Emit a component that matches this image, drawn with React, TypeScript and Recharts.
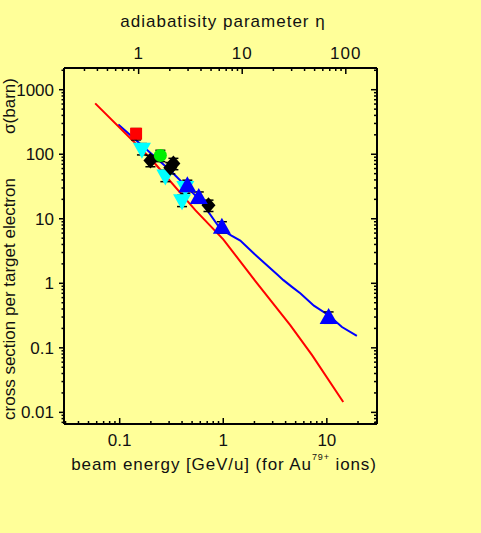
import React from 'react';
import { ComposedChart, Line, Scatter, XAxis, YAxis, ErrorBar } from 'recharts';

// beam energy (GeV/u) -> sigma (barn) readings
const redE = [0.058, 0.198, 0.537, 1.0, 2.05, 4.43, 7.2, 14.4];
const redS = [614, 86.5, 13.6, 4.8, 1.07, 0.225, 0.077, 0.0145];

const blueE = [0.097, 0.308, 0.6, 0.935, 1.2, 1.46, 2.0, 2.64, 3.3, 3.81, 4.6, 5.54, 7.5, 10.4, 14.0, 19.5];
const blueS = [290, 56, 19.3, 7.0, 5.5, 4.6, 2.84, 1.9, 1.38, 1.12, 0.88, 0.7, 0.45, 0.32, 0.21, 0.153];

const squareE = [0.144];
const squareS = [208];
const cyanE = [0.164, 0.276, 0.43, 0.4];
const cyanS = [122, 47, 31, 19.3];
const blackE = [0.198, 0.308, 0.33, 0.72];
const blackS = [80, 62, 72, 16.2];
const greenE = [0.247];
const greenS = [96];
const triE = [0.45, 0.58, 0.97, 10.4];
const triS = [33, 21.7, 7.5, 0.3];

const xMajor = [0.1, 1, 10];
const xMinor = [0.03, 0.04, 0.05, 0.06, 0.07, 0.08, 0.09, 0.2, 0.3, 0.4, 0.5, 0.6, 0.7, 0.8, 0.9, 2, 3, 4, 5, 6, 7, 8, 9, 20, 30];
const etaMajor = [1, 10, 100];
const etaMinor = [0.3, 0.4, 0.5, 0.6, 0.7, 0.8, 0.9, 2, 3, 4, 5, 6, 7, 8, 9, 20, 30, 40, 50, 60, 70, 80, 90, 200];
const yMajor = [0.01, 0.1, 1, 10, 100, 1000];
const yMinor = [0.007, 0.008, 0.009, 0.02, 0.03, 0.04, 0.05, 0.06, 0.07, 0.08, 0.09, 0.2, 0.3, 0.4, 0.5, 0.6, 0.7, 0.8, 0.9,
  2, 3, 4, 5, 6, 7, 8, 9, 20, 30, 40, 50, 60, 70, 80, 90, 200, 300, 400, 500, 600, 700, 800, 900, 2000];

// energy at which eta = 1
const E_AT_ETA1 = 0.1524;
const xDomain = [0.029, 30.5];
const yDomain = [0.0066, 2170];

const pts = (es: number[], ss: number[]) => es.map((e, i) => ({ e, s: ss[i], err: ss[i] * 0.2 }));
const redLine = pts(redE, redS);
const blueLine = pts(blueE, blueS);

const FONT = '"Liberation Sans", Arial, sans-serif';
const isMajor = (v: number, list: number[]) => list.some((m) => Math.abs(m - v) < 1e-6 * m);
const sortTicks = (a: number[], b: number[]) => [...a, ...b].sort((p, q) => p - q);
const etaTicks = sortTicks(etaMajor, etaMinor).map((t) => t * E_AT_ETA1);

const LeftTick = (p: any) => {
  const major = isMajor(p.payload.value, yMajor);
  return (
    <g>
      <line x1={p.x - (major ? 5 : 2.5)} x2={p.x} y1={p.y} y2={p.y} stroke="#000" strokeWidth={1.5} />
      {major && (
        <text x={p.x - 10} y={p.y} dy="0.36em" textAnchor="end" fontSize={17} fontFamily={FONT} fill="#111">
          {String(p.payload.value)}
        </text>
      )}
    </g>
  );
};

const RightTick = (p: any) => {
  const major = isMajor(p.payload.value, yMajor);
  return <line x1={p.x - (major ? 6 : 3)} x2={p.x} y1={p.y} y2={p.y} stroke="#000" strokeWidth={1.5} />;
};

const BottomTick = (p: any) => {
  const major = isMajor(p.payload.value, xMajor);
  return (
    <g>
      <line x1={p.x} x2={p.x} y1={p.y} y2={p.y - (major ? 6 : 3)} stroke="#000" strokeWidth={1.5} />
      {major && (
        <text x={p.x} y={p.y + 22} textAnchor="middle" fontSize={17} fontFamily={FONT} fill="#111">
          {String(p.payload.value)}
        </text>
      )}
    </g>
  );
};

const TopTick = (p: any) => {
  const eta = p.payload.value / E_AT_ETA1;
  const major = isMajor(eta, etaMajor);
  return (
    <g>
      <line x1={p.x} x2={p.x} y1={p.y} y2={p.y + (major ? 6 : 3)} stroke="#000" strokeWidth={1.5} />
      {major && (
        <text x={p.x} y={p.y - 9} textAnchor="middle" fontSize={17} fontFamily={FONT} fill="#111" letterSpacing={1}>
          {String(Math.round(eta))}
        </text>
      )}
    </g>
  );
};

const SquareShape = (p: any) => <rect x={p.cx - 6} y={p.cy - 6} width={12} height={12} fill="#ff0000" />;
const DownTri = (p: any) => (
  <polygon points={`${p.cx - 9},${p.cy - 6} ${p.cx + 9},${p.cy - 6} ${p.cx},${p.cy + 10}`} fill="#00ffff" />
);
const UpTri = (p: any) => (
  <polygon points={`${p.cx - 9},${p.cy + 7} ${p.cx + 9},${p.cy + 7} ${p.cx},${p.cy - 9}`} fill="#0000ff" />
);
const DiamondShape = (p: any) => (
  <polygon points={`${p.cx},${p.cy - 8} ${p.cx + 7},${p.cy} ${p.cx},${p.cy + 8} ${p.cx - 7},${p.cy}`} fill="#000" />
);
const CircleShape = (p: any) => <circle cx={p.cx} cy={p.cy} r={6.5} fill="#00ee00" />;
const NoShape = () => <g />;

const markerSets = [
  { name: 'square', data: pts(squareE, squareS), shape: SquareShape },
  { name: 'cyan', data: pts(cyanE, cyanS), shape: DownTri },
  { name: 'black', data: pts(blackE, blackS), shape: DiamondShape },
  { name: 'green', data: pts(greenE, greenS), shape: CircleShape },
  { name: 'blue', data: pts(triE, triS), shape: UpTri },
];

const textBase: React.CSSProperties = {
  position: 'absolute',
  fontFamily: FONT,
  fontSize: 17,
  lineHeight: '17px',
  color: '#111',
  whiteSpace: 'nowrap',
};

const axisLine = { stroke: '#000', strokeWidth: 2 };

export default function App() {
  return (
    <div style={{ position: 'absolute', left: 0, top: 0, width: 481, height: 533, background: '#ffff99' }}>
      <ComposedChart width={481} height={533} margin={{ top: 0, right: 0, bottom: 0, left: 0 }}>
        <XAxis
          xAxisId="bottom"
          dataKey="e"
          type="number"
          scale="log"
          domain={xDomain}
          allowDataOverflow
          ticks={sortTicks(xMajor, xMinor)}
          interval={0}
          height={109}
          tickSize={0}
          tickMargin={0}
          tick={<BottomTick />}
          axisLine={axisLine}
        />
        <XAxis
          xAxisId="top"
          orientation="top"
          dataKey="e"
          type="number"
          scale="log"
          domain={xDomain}
          allowDataOverflow
          ticks={etaTicks}
          interval={0}
          height={68}
          tickSize={0}
          tickMargin={0}
          tick={<TopTick />}
          axisLine={axisLine}
        />
        <YAxis
          yAxisId="left"
          dataKey="s"
          type="number"
          scale="log"
          domain={yDomain}
          allowDataOverflow
          ticks={sortTicks(yMajor, yMinor)}
          interval={0}
          width={64}
          tickSize={0}
          tickMargin={0}
          tick={<LeftTick />}
          axisLine={axisLine}
        />
        <YAxis
          yAxisId="right"
          orientation="right"
          dataKey="s"
          type="number"
          scale="log"
          domain={yDomain}
          allowDataOverflow
          ticks={sortTicks(yMajor, yMinor)}
          interval={0}
          width={104}
          tickSize={0}
          tickMargin={0}
          tick={<RightTick />}
          axisLine={axisLine}
        />
        {markerSets.map((m) => (
          <Scatter
            key={m.name}
            xAxisId="bottom"
            yAxisId="left"
            data={m.data}
            dataKey="s"
            shape={m.shape}
            isAnimationActive={false}
          />
        ))}
        <Line
          xAxisId="top"
          yAxisId="right"
          data={blueLine}
          dataKey="s"
          type="linear"
          stroke="#0000ff"
          strokeWidth={2}
          dot={false}
          isAnimationActive={false}
        />
        <Line
          xAxisId="bottom"
          yAxisId="left"
          data={redLine}
          dataKey="s"
          type="linear"
          stroke="#ff0000"
          strokeWidth={2}
          dot={false}
          isAnimationActive={false}
        />
        {markerSets.map((m) => (
          <Scatter
            key={m.name + '-err'}
            xAxisId="bottom"
            yAxisId="left"
            data={m.data}
            dataKey="s"
            shape={<NoShape />}
            isAnimationActive={false}
          >
            <ErrorBar dataKey="err" direction="y" width={5} stroke="#000" strokeWidth={1.5} />
          </Scatter>
        ))}
      </ComposedChart>
      <div style={{ ...textBase, left: 223, top: 13, letterSpacing: 1, transform: 'translateX(-50%)' }}>
        adiabatisity parameter η
      </div>
      <div style={{ ...textBase, left: 224, top: 452, letterSpacing: 0.9, transform: 'translateX(-50%)' }}>
        beam energy [GeV/u] (for Au
        <sup style={{ fontSize: 9, position: 'relative', top: -3 }}>79+</sup> ions)
      </div>
      <div style={{ ...textBase, left: 9, top: 299, transform: 'translate(-50%, -50%) rotate(-90deg)' }}>
        cross section per target electron
      </div>
      <div style={{ ...textBase, left: 9, top: 106, transform: 'translate(-50%, -50%) rotate(-90deg)' }}>
        σ(barn)
      </div>
    </div>
  );
}
